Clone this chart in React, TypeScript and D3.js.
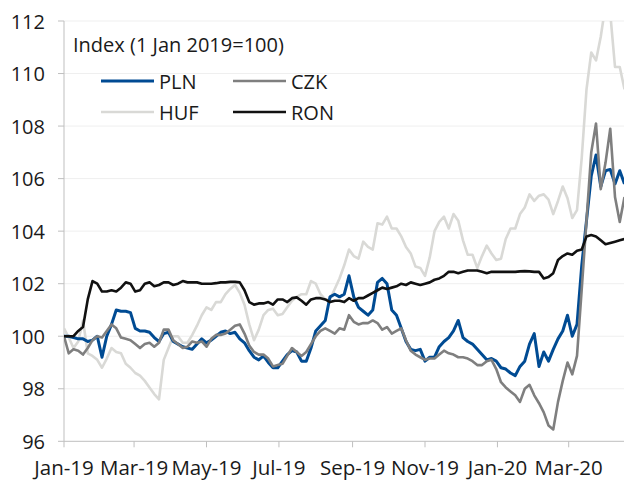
import React from "react";
import * as d3 from "d3";

const startDate = new Date(2019, 0, 1);
const stepDays = 4;

const PLN = [
  100, 100, 99.95, 99.9, 99.9, 99.8, 99.85, 100, 99.2, 100,
  100.45, 101.0, 100.95, 100.95, 100.9, 100.3, 100.2, 100.2, 100.15, 99.95,
  99.8, 100.1, 100.15, 99.8, 99.7, 99.6, 99.55, 99.5, 99.7, 99.9,
  99.75, 99.85, 100.0, 100.15, 100.2, 100.1, 100.15, 99.9, 99.75, 99.45,
  99.2, 99.1, 99.25, 99.0, 98.8, 98.8, 99.05, 99.3, 99.45, 99.4,
  99.05, 99.05, 99.55, 100.2, 100.4, 100.6, 101.5, 101.6, 101.5, 101.6,
  102.3, 101.5, 101.1, 100.95, 100.8, 101.0, 102.05, 102.2, 102.0, 101.0,
  100.8, 100.3, 99.8, 99.5, 99.45, 99.5, 99.05, 99.2, 99.2, 99.6,
  99.8, 99.95, 100.2, 100.6, 99.95, 99.8, 99.7, 99.5, 99.3, 99.1,
  99.15, 99.05, 98.8, 98.75, 98.6, 98.5, 98.85, 99.05, 99.7, 100.1,
  98.85, 99.4, 99.05, 99.5, 99.9, 100.2, 100.8, 100.0, 100.45, 102.7,
  104.4, 106.1, 106.9, 105.7, 106.3, 106.35, 105.8, 106.3, 105.8,
];

const CZK = [
  100, 99.35, 99.5, 99.45, 99.3, 99.55, 99.85, 100.0, 99.95, 100.2,
  100.45, 100.3, 99.95, 99.9, 99.85, 99.7, 99.55, 99.7, 99.75, 99.6,
  99.75, 100.25, 100.25, 99.85, 99.7, 99.55, 99.6, 99.8, 99.75, 99.8,
  99.6, 99.9, 100.05, 100.05, 100.1, 100.25, 100.4, 100.45, 100.1, 99.65,
  99.4, 99.3, 99.3, 99.15, 98.85, 98.9, 98.95, 99.25, 99.55, 99.4,
  99.25, 99.4, 99.7, 100.0, 100.2, 100.3, 100.2, 100.1, 100.3, 100.25,
  100.8, 100.55, 100.45, 100.5, 100.5, 100.6, 100.5, 100.25, 100.35, 100.1,
  100.2, 100.3, 99.85, 99.45, 99.3, 99.2, 99.1, 99.15, 99.15, 99.3,
  99.45, 99.35, 99.3, 99.2, 99.2, 99.15, 99.05, 98.9, 98.9, 99.05,
  99.1, 98.75, 98.25, 98.05, 97.9, 97.75, 97.5, 98.0, 98.15, 97.75,
  97.45, 97.1, 96.6, 96.45, 97.5, 98.3, 99.0, 98.55, 99.25, 101.8,
  104.4, 107.0, 108.1, 105.6, 106.6, 107.9, 105.3, 104.35, 105.3,
];

const HUF = [
  100.3, 99.95, 99.55, 99.8, 100.6, 99.35, 99.25, 99.1, 98.8, 99.15,
  99.55, 99.4, 99.35, 98.95, 98.8, 98.6, 98.5, 98.3, 98.05, 97.8,
  97.6, 99.1, 99.55, 100.0, 100.0, 99.75, 99.75, 100.05, 100.4, 100.8,
  101.1, 101.0, 101.3, 101.3, 101.6, 101.8, 101.95, 101.65, 101.2, 100.45,
  99.85, 100.25, 100.8, 101.0, 101.05, 100.8, 100.85, 101.1, 101.35, 101.5,
  101.6, 101.6, 102.1, 102.0, 101.6, 101.4, 101.4, 101.8, 102.2, 102.7,
  103.3, 103.05, 102.95, 103.6, 103.4, 103.3, 104.3, 104.25, 104.55, 104.1,
  104.1, 103.8, 103.4, 103.15, 102.65, 102.6, 102.3, 103.0, 104.0, 104.35,
  104.55, 104.1, 104.65, 104.4, 103.65, 103.1, 103.1, 102.6, 103.05, 103.45,
  103.15, 102.9, 102.95, 103.7, 104.1, 104.1, 104.65, 104.9, 105.4, 105.15,
  105.35, 105.4, 105.2, 104.65, 105.15, 105.7, 105.25, 104.5, 104.8, 106.8,
  109.4, 110.8, 110.5, 111.4, 112.6, 112.3, 110.25, 110.25, 109.4,
];

const RON = [
  100.0, 100.0, 100.0, 100.2, 100.35, 101.4, 102.1, 102.0, 101.7, 101.7,
  101.75, 101.7, 101.85, 102.05, 102.0, 101.7, 101.75, 102.0, 102.05, 101.9,
  101.95, 102.05, 102.05, 101.95, 102.0, 102.1, 102.05, 102.05, 102.05, 102.0,
  102.0, 102.0, 102.02, 102.05, 102.05, 102.07, 102.07, 102.05, 101.75, 101.3,
  101.2, 101.25, 101.25, 101.3, 101.2, 101.4, 101.4, 101.3, 101.45, 101.48,
  101.35, 101.2, 101.4, 101.45, 101.45, 101.4, 101.3, 101.35, 101.35, 101.3,
  101.45, 101.35, 101.45, 101.45, 101.55, 101.65, 101.75, 101.85, 101.8, 101.85,
  101.9, 102.0, 101.95, 102.05, 102.0, 101.95, 102.0, 102.05, 102.15, 102.2,
  102.3, 102.45, 102.45, 102.4, 102.45, 102.5, 102.5, 102.5, 102.45, 102.4,
  102.45, 102.45, 102.45, 102.45, 102.45, 102.45, 102.47, 102.48, 102.47, 102.45,
  102.45, 102.2, 102.25, 102.4, 102.9, 103.05, 103.15, 103.1, 103.25, 103.3,
  103.8, 103.85, 103.8, 103.65, 103.5, 103.55, 103.6, 103.65, 103.7,
];

const yTicks = [96, 98, 100, 102, 104, 106, 108, 110, 112];
const xTickDates = [
  new Date(2019, 0, 1), new Date(2019, 2, 1), new Date(2019, 4, 1), new Date(2019, 6, 1),
  new Date(2019, 8, 1), new Date(2019, 10, 1), new Date(2020, 0, 1), new Date(2020, 2, 1),
];
const xTickLabels = ["Jan-19", "Mar-19", "May-19", "Jul-19", "Sep-19", "Nov-19", "Jan-20", "Mar-20"];

const seriesNames = ["HUF", "PLN", "CZK", "RON"];
const seriesColors: Record<string, string> = {
  PLN: "#004B93",
  CZK: "#7F7F7F",
  HUF: "#D9D9D6",
  RON: "#111111",
};
const seriesWidths: Record<string, number> = { PLN: 3, CZK: 2.6, HUF: 2.6, RON: 2.6 };
const seriesData: Record<string, number[]> = { PLN, CZK, HUF, RON };

const legendTitle = "Index (1 Jan 2019=100)";
const legendItems = [
  ["PLN", "CZK"],
  ["HUF", "RON"],
];

const FONT = "'Open Sans', sans-serif";

export default function App() {
  const W = 624;
  const H = 480;
  const n = PLN.length;
  const dates = d3.range(n).map((i) => d3.timeDay.offset(startDate, i * stepDays));
  const left = 64;
  const top = 21;
  const bottom = 441.3;
  const lastDate = dates[n - 1];
  const pxPerDay = 1.1875;
  const x = d3
    .scaleTime()
    .domain([startDate, lastDate])
    .range([left, left + d3.timeDay.count(startDate, lastDate) * pxPerDay]);
  const y = d3.scaleLinear().domain([96, 112]).range([bottom, top]);

  const line = d3
    .line<number>()
    .x((_, i) => x(dates[i]))
    .y((v) => y(v));

  return (
    <svg
      width={W}
      height={H}
      style={{ position: "absolute", left: 0, top: 0, background: "#fff" }}
      fontFamily={FONT}
    >
      <defs>
        <clipPath id="plotClip">
          <rect x={left} y={top} width={W - left} height={H - top} />
        </clipPath>
      </defs>
      {yTicks.map((t) => (
        <g key={t}>
          {t !== 96 && (
            <line x1={left} x2={W} y1={y(t)} y2={y(t)} stroke="#EFEFEF" strokeWidth={1} />
          )}
          <line x1={left - 6} x2={left} y1={y(t)} y2={y(t)} stroke="#BFBFBF" strokeWidth={1} />
          <text x={45} y={y(t) + 7.5} textAnchor="end" fontSize={20} fill="#1a1a1a">
            {t}
          </text>
        </g>
      ))}
      <line x1={left} x2={left} y1={top} y2={bottom} stroke="#BFBFBF" strokeWidth={1} />
      <line x1={left} x2={W} y1={bottom} y2={bottom} stroke="#BFBFBF" strokeWidth={1} />
      {xTickDates.map((d, i) => (
        <g key={i}>
          <line x1={x(d)} x2={x(d)} y1={bottom} y2={bottom + 6} stroke="#BFBFBF" strokeWidth={1} />
          <text x={x(d)} y={475} textAnchor="middle" fontSize={20.5} fill="#1a1a1a">
            {xTickLabels[i]}
          </text>
        </g>
      ))}
      <g clipPath="url(#plotClip)">
        {seriesNames.map((name) => (
          <path
            key={name}
            d={line(seriesData[name]) || ""}
            fill="none"
            stroke={seriesColors[name]}
            strokeWidth={seriesWidths[name]}
            strokeLinejoin="round"
          />
        ))}
      </g>
      <text x={73} y={52} fontSize={20} fill="#1a1a1a">
        {legendTitle}
      </text>
      {legendItems.map((row, r) =>
        row.map((name, c) => {
          const lx = 101 + c * 132;
          const ly = 81 + r * 31;
          return (
            <g key={name}>
              <line
                x1={lx}
                x2={lx + 53}
                y1={ly}
                y2={ly}
                stroke={seriesColors[name]}
                strokeWidth={seriesWidths[name]}
              />
              <text x={lx + 58} y={ly + 7.5} fontSize={20} fill="#1a1a1a">
                {name}
              </text>
            </g>
          );
        })
      )}
    </svg>
  );
}
